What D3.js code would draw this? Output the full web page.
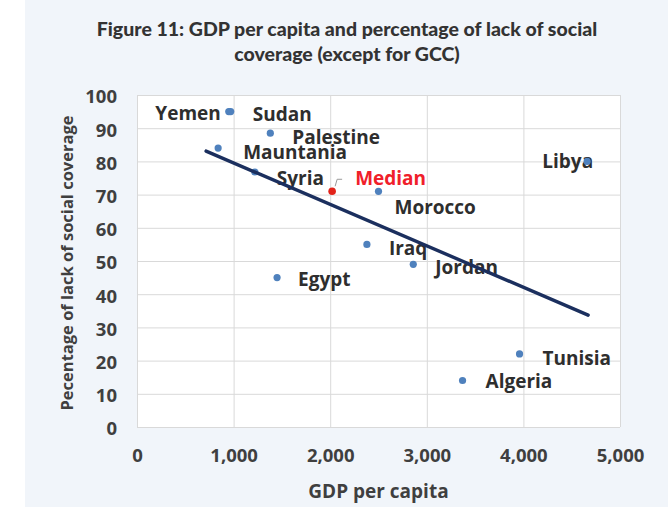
<!DOCTYPE html>
<html>
<head>
<meta charset="utf-8">
<script src="https://cdn.jsdelivr.net/npm/d3@7/dist/d3.min.js"></script>
<style>
  html, body { margin: 0; padding: 0; background: #ffffff; }
  svg { display: block; }
  text { font-family: "Open Sans", "Lato", sans-serif; font-weight: 700; }
</style>
</head>
<body>
<svg id="chart" width="668" height="507"></svg>
<script>
// GDP per capita vs. share of population lacking social coverage
const countries = ["Yemen", "Sudan", "Palestine", "Mauntania", "Syria", "Morocco",
                   "Iraq", "Jordan", "Egypt", "Libya", "Tunisia", "Algeria"];
const gdpPerCapita = [950, 970, 1380, 840, 1220, 2500, 2380, 2860, 1450, 4660, 3960, 3370];
const lackOfCoverage = [95, 95, 88.5, 84, 76.8, 71, 55, 49, 45, 80, 22, 14];

const medianPoint = { label: "Median", gdp: 2020, value: 71 };

// linear trend, end points
const trendGdp = [715, 4670];
const trendValue = [83.1, 33.7];

const xTicks = [0, 1000, 2000, 3000, 4000, 5000];
const yTicks = [0, 10, 20, 30, 40, 50, 60, 70, 80, 90, 100];

// label placement relative to each dot
const labelPlacement = {
  Yemen:     { dx: -8,  dy: 2,  anchor: "end" },
  Sudan:     { dx: 22,  dy: 3 },
  Palestine: { dx: 22,  dy: 4 },
  Mauntania: { dx: 25,  dy: 4 },
  Syria:     { dx: 22,  dy: 6 },
  Morocco:   { dx: 16,  dy: 16 },
  Iraq:      { dx: 22,  dy: 4 },
  Jordan:    { dx: 22,  dy: 3 },
  Egypt:     { dx: 21,  dy: 2 },
  Libya:     { dx: 6,   dy: 0,  anchor: "end", over: true },
  Tunisia:   { dx: 23,  dy: 4 },
  Algeria:   { dx: 23,  dy: 1 }
};

const svg = d3.select("#chart");
const W = 668, H = 507;
const plot = { left: 137, right: 620, top: 95, bottom: 427 };

// page background panel
svg.append("rect").attr("x", 0).attr("y", 0).attr("width", W).attr("height", H).attr("fill", "#ffffff");
svg.append("rect").attr("x", 25).attr("y", 0).attr("width", W - 25).attr("height", H).attr("fill", "#f1f5fa");

const x = d3.scaleLinear().domain([0, 5000]).range([plot.left, plot.right]);
const y = d3.scaleLinear().domain([0, 100]).range([plot.bottom, plot.top]);

// plot area
svg.append("rect")
  .attr("x", plot.left).attr("y", plot.top)
  .attr("width", plot.right - plot.left).attr("height", plot.bottom - plot.top)
  .attr("fill", "#ffffff");

// gridlines
const gridY = d3.axisLeft(y).tickValues(yTicks).tickSize(-(plot.right - plot.left)).tickFormat("");
svg.append("g").attr("transform", `translate(${plot.left},0)`).call(gridY)
  .call(g => g.select(".domain").remove())
  .call(g => g.selectAll("line").attr("stroke", "#d9d9d9").attr("stroke-width", 1));

const gridX = d3.axisBottom(x).tickValues(xTicks).tickSize(-(plot.bottom - plot.top)).tickFormat("");
svg.append("g").attr("transform", `translate(0,${plot.bottom})`).call(gridX)
  .call(g => g.select(".domain").remove())
  .call(g => g.selectAll("line").attr("stroke", "#d9d9d9").attr("stroke-width", 1));

// tick labels
const tickStyle = g => g.selectAll("text").attr("fill", "#3f3f3f").attr("font-size", 18.5)
  .style("font-family", "'Open Sans', sans-serif").style("font-weight", 700);

const yAxis = d3.axisLeft(y).tickValues(yTicks).tickSize(0).tickPadding(0).tickFormat(d3.format("d"));
svg.append("g").attr("transform", `translate(${plot.left - 20},2)`).call(yAxis)
  .call(g => g.select(".domain").remove())
  .call(tickStyle);

const xAxis = d3.axisBottom(x).tickValues(xTicks).tickSize(0).tickPadding(0).tickFormat(d3.format(","));
svg.append("g").attr("transform", `translate(0,456)`).call(xAxis)
  .call(g => g.select(".domain").remove())
  .call(tickStyle)
  .call(g => g.selectAll("text").attr("y", 0).attr("dy", "0.35em"));

// axis titles
svg.append("text")
  .attr("x", (plot.left + plot.right) / 2).attr("y", 498)
  .attr("text-anchor", "middle").attr("font-size", 19).attr("fill", "#3f3f3f")
  .text("GDP per capita");

svg.append("text")
  .attr("transform", `translate(73,${(plot.top + plot.bottom) / 2 + 2}) rotate(-90)`)
  .attr("text-anchor", "middle").attr("font-size", 16.5).attr("fill", "#3f3f3f")
  .text("Pecentage of lack of social coverage");

// title
const title = svg.append("text").attr("text-anchor", "middle").attr("fill", "#333333")
  .attr("font-size", 19.5).style("font-family", "Lato, sans-serif").style("font-weight", 900);
title.append("tspan").attr("x", 347).attr("y", 36).text("Figure 11: GDP per capita and percentage of lack of social");
title.append("tspan").attr("x", 347).attr("y", 61).text("coverage (except for GCC)");

const points = countries.map((c, i) => ({ name: c, gdp: gdpPerCapita[i], value: lackOfCoverage[i] }));
const under = points.filter(p => !labelPlacement[p.name].over);
const over = points.filter(p => labelPlacement[p.name].over);

const dotColor = "#4f81bd";

// dots beneath the trend line
svg.append("g").selectAll("circle").data(under).join("circle")
  .attr("cx", d => x(d.gdp)).attr("cy", d => y(d.value)).attr("r", 3.6)
  .attr("fill", dotColor);

// labels
svg.append("g").selectAll("text").data(points).join("text")
  .attr("x", d => x(d.gdp) + labelPlacement[d.name].dx)
  .attr("y", d => y(d.value) + labelPlacement[d.name].dy)
  .attr("dy", "0.35em")
  .attr("text-anchor", d => labelPlacement[d.name].anchor || "start")
  .attr("font-size", 19).attr("fill", "#2e2e2e")
  .text(d => d.name);

// trend line
svg.append("line")
  .attr("x1", x(trendGdp[0])).attr("y1", y(trendValue[0]))
  .attr("x2", x(trendGdp[1])).attr("y2", y(trendValue[1]))
  .attr("stroke", "#1b2f5e").attr("stroke-width", 3.4).attr("stroke-linecap", "round");

// dots drawn above their labels
svg.append("g").selectAll("circle").data(over).join("circle")
  .attr("cx", d => x(d.gdp)).attr("cy", d => y(d.value)).attr("r", 3.6)
  .attr("fill", dotColor);

// median point with leader line
const mx = x(medianPoint.gdp), my = y(medianPoint.value);
svg.append("path")
  .attr("d", `M${mx + 3},${my - 5} L${mx + 5},${my - 12} L${mx + 10},${my - 12}`)
  .attr("fill", "none").attr("stroke", "#9a9a9a").attr("stroke-width", 1);
svg.append("circle").attr("cx", mx).attr("cy", my).attr("r", 3.8).attr("fill", "#e2231a");
svg.append("text")
  .attr("x", mx + 23).attr("y", my - 13).attr("dy", "0.35em")
  .attr("font-size", 19).attr("fill", "#f0202a")
  .text(medianPoint.label);
</script>
</body>
</html>
